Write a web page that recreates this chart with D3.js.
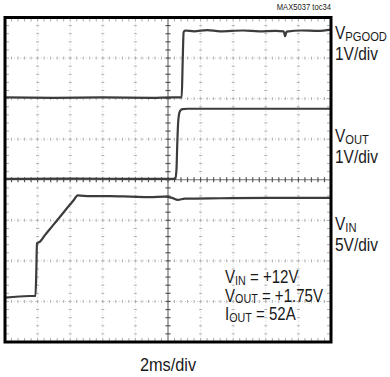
<!DOCTYPE html>
<html>
<head>
<meta charset="utf-8">
<script src="https://cdn.jsdelivr.net/npm/d3@7"></script>
<style>
  html, body { margin: 0; padding: 0; background: #fff; }
  svg { display: block; }
  text { font-family: "Liberation Sans", Arial, sans-serif; fill: #1a1a1a; }
</style>
</head>
<body>
<svg id="chart" width="390" height="377"></svg>
<script>
// Horizontal: 2 ms/div across 10 divisions; vertical: 8 divisions
const timeDomain = [0, 20];
const divDomain = [0, 8];

// VPGOOD trace (ms, V) at 1 V/div
const vpgoodT = [0, 3, 6, 9, 10.3, 10.84, 10.9, 10.96, 11.05, 11.6, 12.4, 13.2, 14.6, 15.6, 16.6, 17.1, 17.18, 17.28, 18.2, 19.2, 20];
const vpgoodV = [0.03, 0.02, 0.03, 0.02, 0.03, 0.03, 0.9, 1.64, 1.68, 1.66, 1.69, 1.66, 1.68, 1.66, 1.67, 1.66, 1.54, 1.65, 1.68, 1.67, 1.7];

// VOUT trace (ms, V) at 1 V/div
const voutT = [0, 4, 8, 10.45, 10.52, 10.57, 10.62, 10.68, 10.76, 10.9, 11.2, 14, 17, 20];
const voutV = [0.02, 0.03, 0.02, 0.02, 0.25, 0.9, 1.4, 1.62, 1.71, 1.74, 1.75, 1.75, 1.75, 1.75];

// VIN trace (ms, V) at 5 V/div
const vinT = [0, 1.5, 1.87, 1.92, 1.96, 2.15, 2.45, 2.94, 3.55, 4.17, 4.47, 5.2, 6.4, 7.7, 8.9, 9.8, 10.24, 10.6, 11.03, 13.2, 16.2, 20];
const vinV = [-0.2, 0, 0, 3, 6.5, 6.7, 7.5, 8.7, 10.2, 11.7, 12.4, 12.3, 12.3, 12.25, 12.2, 12.25, 12.1, 11.85, 12.0, 12.05, 12.1, 12.1];

// Channel labels
const chanNames = ["V", "V", "V"];
const chanSubs = ["PGOOD", "OUT", "IN"];
const chanScales = ["1V/div", "1V/div", "5V/div"];
const voltsPerDiv = [1, 1, 5];

// Test conditions
const condNames = ["V", "V", "I"];
const condSubs = ["IN", "OUT", "OUT"];
const condValues = [" = +12V", " = +1.75V", " = 52A"];

const figureId = "MAX5037 toc34";
const timeLabel = "2ms/div";

const svg = d3.select("#chart");
const L = 5, R = 331, T = 17.5, B = 342;

const x = d3.scaleLinear().domain(timeDomain).range([L, R]);
const yDiv = d3.scaleLinear().domain(divDomain).range([B, T]);

// graticule
const grid = svg.append("g");
const majorT = d3.range(2, 19, 2);
const majorD = d3.range(1, 8, 1);
const minorT = d3.range(0, 20.001, 0.4);
const minorD = d3.range(0, 8.001, 0.2);

majorT.filter(t => t !== 10).forEach(t => {
  grid.append("line").attr("x1", x(t)).attr("x2", x(t)).attr("y1", T).attr("y2", B)
    .attr("stroke", "#d0d0d0").attr("stroke-width", 1).attr("stroke-dasharray", "1,2");
  grid.selectAll(null).data(minorD).join("line")
    .attr("x1", x(t) - 1.5).attr("x2", x(t) + 1.5)
    .attr("y1", d => yDiv(d)).attr("y2", d => yDiv(d))
    .attr("stroke", "#b0b0b0").attr("stroke-width", 1);
});
majorD.filter(d => d !== 4).forEach(d => {
  grid.append("line").attr("x1", L).attr("x2", R).attr("y1", yDiv(d)).attr("y2", yDiv(d))
    .attr("stroke", "#d0d0d0").attr("stroke-width", 1).attr("stroke-dasharray", "1,2");
  grid.selectAll(null).data(minorT).join("line")
    .attr("x1", t => x(t)).attr("x2", t => x(t))
    .attr("y1", yDiv(d) - 1.5).attr("y2", yDiv(d) + 1.5)
    .attr("stroke", "#b0b0b0").attr("stroke-width", 1);
});

// centre cross with fine ticks
grid.append("line").attr("x1", x(10)).attr("x2", x(10)).attr("y1", T).attr("y2", B)
  .attr("stroke", "#707070").attr("stroke-width", 1.2);
grid.append("line").attr("x1", L).attr("x2", R).attr("y1", yDiv(4)).attr("y2", yDiv(4))
  .attr("stroke", "#707070").attr("stroke-width", 1.2);
grid.selectAll(null).data(minorD).join("line")
  .attr("x1", x(10) - 2.5).attr("x2", x(10) + 2.5)
  .attr("y1", d => yDiv(d)).attr("y2", d => yDiv(d))
  .attr("stroke", "#555").attr("stroke-width", 1.2);
grid.selectAll(null).data(minorT).join("line")
  .attr("x1", t => x(t)).attr("x2", t => x(t))
  .attr("y1", yDiv(4) - 2.5).attr("y2", yDiv(4) + 2.5)
  .attr("stroke", "#555").attr("stroke-width", 1.2);

// ticks along the frame edges
[T, B].forEach((yy, i) => {
  grid.selectAll(null).data(minorT).join("line")
    .attr("x1", t => x(t)).attr("x2", t => x(t))
    .attr("y1", i === 0 ? yy : yy - 4).attr("y2", i === 0 ? yy + 4 : yy)
    .attr("stroke", "#aaa").attr("stroke-width", 1);
});
[L, R].forEach((xx, i) => {
  grid.selectAll(null).data(minorD).join("line")
    .attr("y1", d => yDiv(d)).attr("y2", d => yDiv(d))
    .attr("x1", i === 0 ? xx : xx - 4).attr("x2", i === 0 ? xx + 4 : xx)
    .attr("stroke", "#aaa").attr("stroke-width", 1);
});

// traces
const groundDiv = [6, 4, 1.134];
const traces = [[vpgoodT, vpgoodV], [voutT, voutV], [vinT, vinV]];
traces.forEach(([ts, vs], i) => {
  const pts = ts.map((t, k) => [t, vs[k]]);
  const line = d3.line()
    .x(d => x(d[0]))
    .y(d => yDiv(groundDiv[i] + d[1] / voltsPerDiv[i]))
    .curve(d3.curveMonotoneX);
  svg.append("path").datum(pts).attr("d", line)
    .attr("fill", "none").attr("stroke", "#3c3c3c").attr("stroke-width", 2.2)
    .attr("stroke-linejoin", "round");
});

// frame
svg.append("rect").attr("x", L).attr("y", T).attr("width", R - L).attr("height", B - T)
  .attr("fill", "none").attr("stroke", "#000").attr("stroke-width", 3);

// condensed text, anchored at (px, py)
function narrowText(px, py, size, squeeze, anchor) {
  return svg.append("text")
    .attr("transform", `translate(${px},${py}) scale(${squeeze},1)`)
    .attr("font-size", size)
    .attr("text-anchor", anchor || "start");
}

narrowText(R, 9.5, 9.3, 0.82, "end").text(figureId);

const labelY = [[39, 60], [142, 163], [230, 251]];
chanNames.forEach((n, i) => {
  const t = narrowText(335, labelY[i][0], 18, 0.86);
  t.append("tspan").text(n);
  t.append("tspan").attr("font-size", 13).attr("dy", 1.5).text(chanSubs[i]);
  narrowText(335, labelY[i][1], 18, 0.86).text(chanScales[i]);
});

const condY = [283, 301.5, 320];
condNames.forEach((n, i) => {
  const t = narrowText(225, condY[i], 17.5, 0.86);
  t.append("tspan").text(n);
  t.append("tspan").attr("font-size", 12.5).attr("dy", 1.5).text(condSubs[i]);
  t.append("tspan").attr("dy", -1.5).text(condValues[i]);
});

narrowText(x(10), 371, 19, 0.86, "middle").text(timeLabel);
</script>
</body>
</html>
